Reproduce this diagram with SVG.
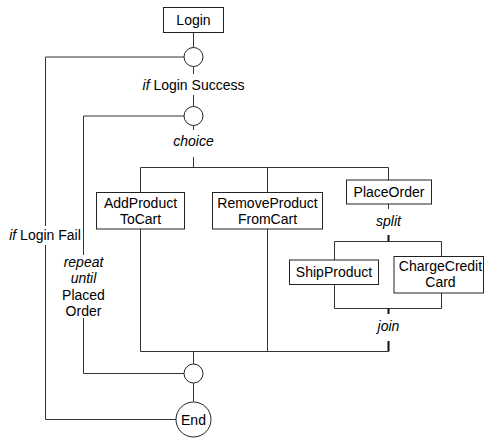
<svg xmlns="http://www.w3.org/2000/svg" width="484" height="438" viewBox="0 0 484 438">
  <style>
    text { font-family: "Liberation Sans", Arial, sans-serif; font-size: 14px; fill: #000; text-anchor: middle; }
    .it { font-style: italic; }
    .box { fill: #fff; stroke: #222; stroke-width: 1; }
    .node { fill: #fff; stroke: #222; stroke-width: 1; }
    .wire { fill: none; stroke: #333; stroke-width: 1; }
    .stub { fill: none; stroke: #111; stroke-width: 2; }
  </style>
  <rect width="484" height="438" fill="#fff"/>

  <!-- connectors -->
  <g id="connectors">
    <!-- login to first decision -->
    <path class="wire" d="M193.5 32.5 V47.5"/>
    <!-- login fail branch down to End -->
    <path class="wire" d="M184 57 H45.5 V226 M45.5 245 V419.5 H176"/>
    <!-- success branch -->
    <path class="wire" d="M193.5 66.5 V74 M193.5 95 V106.5"/>
    <!-- repeat loop back from merge -->
    <path class="wire" d="M184 116 H83.5 V255 M83.5 318 V373.5 H184"/>
    <!-- choice fan-out -->
    <path class="wire" d="M193.5 125.5 V130 M193.5 157 V167.5"/>
    <path class="wire" d="M140.5 192.5 V167.5 H388.5 V180 M267.5 167.5 V192.5"/>
    <!-- split -->
    <path class="wire" d="M388.5 204 V209"/>
    <path class="stub" d="M388.5 235 V241.5"/>
    <path class="wire" d="M334.5 260 V241.5 H441.5 V256.5"/>
    <!-- join -->
    <path class="wire" d="M334.5 284.5 V308.5 H441.5 V293"/>
    <path class="stub" d="M388.5 308.5 V314 M388.5 341 V351.5"/>
    <!-- choice fan-in -->
    <path class="wire" d="M140.5 229 V351.5 H388.5 M267.5 229 V351.5 M193.5 351.5 V364"/>
    <!-- merge to End -->
    <path class="wire" d="M193.5 383 V401.5"/>
  </g>

  <!-- branch labels -->
  <g id="labels">
    <text x="193.5" y="90"><tspan class="it">if</tspan> Login Success</text>
    <text x="193.5" y="146" class="it">choice</text>
    <text x="388.5" y="225.5" class="it">split</text>
    <text x="388.5" y="331" class="it">join</text>
    <text x="45" y="240"><tspan class="it">if</tspan> Login Fail</text>
    <text x="83.5" y="266.5" class="it">repeat</text>
    <text x="83.5" y="283" class="it">until</text>
    <text x="83.5" y="299.5">Placed</text>
    <text x="83.5" y="316">Order</text>
  </g>

  <g id="login">
    <rect class="box" x="163.5" y="7.5" width="60" height="25"/>
    <text x="193.5" y="25">Login</text>
  </g>

  <g id="decision-login">
    <circle class="node" cx="193.5" cy="57" r="9.5"/>
  </g>

  <g id="decision-choice">
    <circle class="node" cx="193.5" cy="116" r="9.5"/>
  </g>

  <g id="add-product">
    <rect class="box" x="96.5" y="192.5" width="88" height="36.5"/>
    <text x="140.5" y="207.5">AddProduct</text>
    <text x="140.5" y="224">ToCart</text>
  </g>

  <g id="remove-product">
    <rect class="box" x="212.5" y="192.5" width="110" height="36.5"/>
    <text x="267.5" y="207.5">RemoveProduct</text>
    <text x="267.5" y="224">FromCart</text>
  </g>

  <g id="place-order">
    <rect class="box" x="346.5" y="180" width="85" height="24"/>
    <text x="389" y="197">PlaceOrder</text>
  </g>

  <g id="ship-product">
    <rect class="box" x="289.5" y="260" width="89" height="24.5"/>
    <text x="334" y="277">ShipProduct</text>
  </g>

  <g id="charge-credit-card">
    <rect class="box" x="394" y="256.5" width="89.5" height="36.5"/>
    <text x="440.5" y="271">ChargeCredit</text>
    <text x="440.5" y="287">Card</text>
  </g>

  <g id="merge">
    <circle class="node" cx="193.5" cy="373.5" r="9.5"/>
  </g>

  <g id="end">
    <circle class="node" cx="193.5" cy="419.5" r="17.5"/>
    <text x="193.5" y="424.5">End</text>
  </g>
</svg>
